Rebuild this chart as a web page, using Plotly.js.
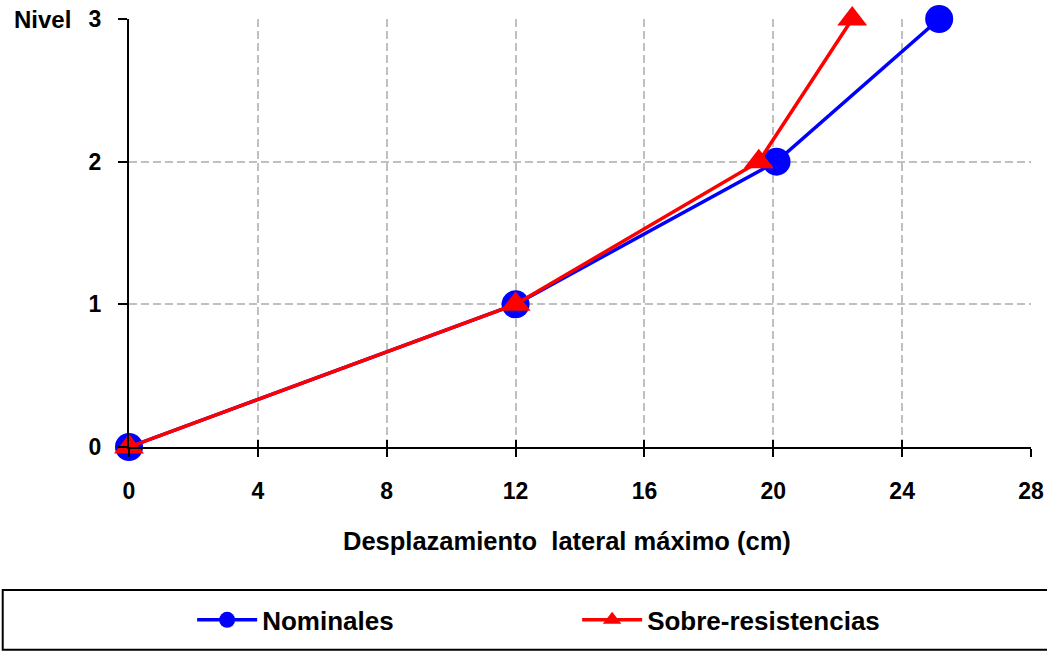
<!DOCTYPE html>
<html><head><meta charset="utf-8">
<script src="https://cdn.plot.ly/plotly-3.0.1.min.js"></script>
<style>html,body{margin:0;padding:0;background:#fff}#chart{width:1047px;height:651px}</style>
</head><body><div id="chart"></div>
<script>
var nivel = [0, 1, 2, 3];
var nominalesX = [0, 12, 20.1, 25.15];
var sobreX = [0, 12, 19.55, 22.45];
var xTicks = [0, 4, 8, 12, 16, 20, 24, 28];
var yTicks = [0, 1, 2, 3];
var seriesNames = ['Nominales', 'Sobre-resistencias'];
var xTitle = 'Desplazamiento  lateral máximo (cm)';
var yTitle = 'Nivel';

var FONT = 'Liberation Sans, Arial, sans-serif';
var traces = [
  {x: nominalesX, y: nivel, name: seriesNames[0], type: 'scatter', mode: 'lines+markers',
   line: {color: '#0000ff', width: 3.5}, marker: {symbol: 'circle', size: 28, color: '#0000ff'}, cliponaxis: false},
  {x: sobreX, y: nivel, name: seriesNames[1], type: 'scatter', mode: 'lines+markers',
   line: {color: '#ff0000', width: 3.5}, marker: {symbol: 'triangle-up', size: 26, color: '#ff0000'}, cliponaxis: false},
  {x: [null], y: [null], xaxis: 'x2', showlegend: false, hoverinfo: 'skip'}
];
var layout = {
  width: 1047, height: 651,
  margin: {l: 129, r: 16, t: 19, b: 204, autoexpand: false},
  paper_bgcolor: '#fff', plot_bgcolor: '#fff',
  showlegend: true,
  font: {family: FONT, color: '#000'},
  xaxis: {range: [0, 28], tickvals: xTicks, ticktext: xTicks.map(String),
    showline: true, linecolor: '#000', linewidth: 2, zeroline: false,
    ticks: 'outside', ticklen: 8, tickwidth: 2, tickcolor: '#000',
    showgrid: true, gridcolor: '#c0c0c0', griddash: '8px,4px', gridwidth: 2,
    tickfont: {family: FONT, size: 23, color: '#000', weight: 'bold'},
    ticklabelstandoff: 14},
  xaxis2: {overlaying: 'x', matches: 'x', range: [0, 28], tickvals: xTicks, ticks: 'inside', ticklen: 7, tickwidth: 2, tickcolor: '#000',
    showticklabels: false, showgrid: false, zeroline: false, showline: false, side: 'bottom'},
  yaxis: {range: [0, 3], tickvals: yTicks, ticktext: yTicks.map(String),
    showline: true, linecolor: '#000', linewidth: 2, zeroline: false,
    ticks: 'outside', ticklen: 9, tickwidth: 2, tickcolor: '#000',
    showgrid: true, gridcolor: '#c0c0c0', griddash: '8px,4px', gridwidth: 2,
    tickfont: {family: FONT, size: 23, color: '#000', weight: 'bold'},
    ticklabelstandoff: 12},
  annotations: [
    {text: yTitle, xref: 'paper', yref: 'paper', x: -0.062, y: 1, xanchor: 'right', yanchor: 'middle',
     showarrow: false, font: {family: FONT, size: 24, color: '#000', weight: 'bold'}},
    {text: xTitle, xref: 'paper', yref: 'paper', x: 0.4856, y: -0.2196, xanchor: 'center', yanchor: 'middle',
     showarrow: false, font: {family: FONT, size: 25.5, color: '#000', weight: 'bold'}}
  ],
  shapes: [{type: 'rect', xref: 'paper', yref: 'paper', x0: -0.14, x1: 1.05, y0: -0.334, y1: -0.474,
    line: {color: '#000', width: 2}, fillcolor: 'rgba(0,0,0,0)', layer: 'below'}],
  legend: {orientation: 'h', x: 0.07, xanchor: 'left', y: -0.404, yanchor: 'middle',
    bgcolor: 'rgba(0,0,0,0)', borderwidth: 0, itemwidth: 60, entrywidth: 310, entrywidthmode: 'pixels',
    font: {family: FONT, size: 26, color: '#000', weight: 'bold'}, itemclick: false, itemdoubleclick: false}
};
Plotly.newPlot('chart', traces, layout, {displayModeBar: false, staticPlot: true});
</script></body></html>
